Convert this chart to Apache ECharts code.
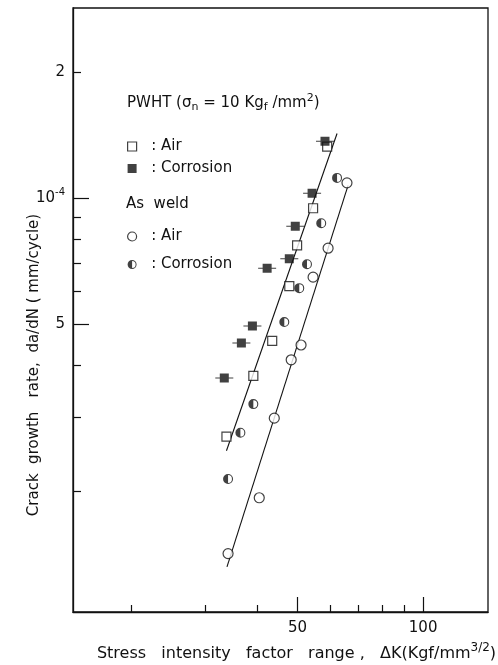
<!DOCTYPE html>
<html>
<head>
<meta charset="utf-8">
<style>
  html, body { margin: 0; padding: 0; background: #fff; }
  #chart { width: 498px; height: 665px; }
</style>
<script src="https://cdn.jsdelivr.net/npm/echarts@6/dist/echarts.min.js"></script>
</head>
<body>
<div id="chart"></div>
<script>
// delta K (Kgf/mm^3/2), da/dN (mm/cycle)
const pwhtAir = [[58.9, 1.33e-4], [54.5, 9.48e-5], [49.9, 7.73e-5], [47.8, 6.18e-5], [43.5, 4.57e-5], [39.2, 3.77e-5], [33.8, 2.70e-5]];
const pwhtCorrosion = [[58.2, 1.37e-4], [54.2, 1.03e-4], [49.4, 8.59e-5], [47.8, 7.18e-5], [42.3, 6.82e-5], [39.0, 4.96e-5], [36.7, 4.52e-5], [33.4, 3.73e-5]];
const weldAir = [[65.7, 1.09e-4], [59.2, 7.61e-5], [54.5, 6.49e-5], [51.0, 4.47e-5], [48.3, 4.12e-5], [44.0, 2.99e-5], [40.5, 1.93e-5], [34.1, 1.42e-5]];
const weldCorrosion = [[62.2, 1.12e-4], [57.0, 8.73e-5], [52.7, 6.97e-5], [50.5, 6.11e-5], [46.5, 5.07e-5], [39.2, 3.23e-5], [36.5, 2.76e-5], [34.1, 2.14e-5]];
const pwhtFit = [[33.8, 2.50e-5], [62.2, 1.43e-4]];
const weldFit = [[33.9, 1.32e-5], [66.1, 1.075e-4]];

const xLongTicks = [50, 100];
const xShortTicks = [20, 30, 40, 60, 70, 80, 90];
const yLongTicks = [5e-5, 1e-4];
const yShortTicks = [2e-5, 3e-5, 4e-5, 6e-5, 7e-5, 8e-5, 9e-5, 2e-4];
const yLabels = [5e-5, 1e-4, 2e-4];

const FONT = 'DejaVu Sans';
const INK = '#111';

const dashSquare = 'path://M0,4L4.5,4L4.5,0L13.5,0L13.5,4L18,4L18,5L13.5,5L13.5,9L4.5,9L4.5,5L0,5Z';
const halfCircle = 'path://M10,0A10,10 0 1,1 10,20A10,10 0 1,1 10,0ZM10,2.2A7.8,7.8 0 1,0 10,17.8A7.8,7.8 0 1,0 10,2.2ZM10,2.2A7.8,7.8 0 0,0 10,17.8Z';

const openStyle = { color: '#fff', borderColor: INK, borderWidth: 1.2 };

const chart = echarts.init(document.getElementById('chart'));

const xBase = { type: 'log', min: 14.5, max: 143, gridIndex: 0, position: 'bottom', splitLine: { show: false }, minorTick: { show: false } };
const yBase = { type: 'log', min: 1.03e-5, max: 2.85e-4, gridIndex: 0, position: 'left', splitLine: { show: false }, minorTick: { show: false } };

chart.setOption({
  animation: false,
  backgroundColor: '#fff',
  textStyle: { fontFamily: FONT, color: INK },
  grid: {
    left: 73, right: 10, top: 8, bottom: 53, containLabel: false, outerBoundsMode: 'none',
    show: true, borderColor: INK, borderWidth: 1.3, backgroundColor: 'transparent'
  },
  xAxis: [
    Object.assign({}, xBase, {
      axisLine: { lineStyle: { color: INK, width: 1.3 } },
      axisTick: { inside: true, length: 15, lineStyle: { color: INK, width: 1.2 }, customValues: xLongTicks },
      axisLabel: { customValues: xLongTicks, margin: 9, fontSize: 15, fontFamily: FONT, color: INK },
      name: 'Stress   intensity   factor   range ,   ΔK(Kgf/mm{s|3/2})',
      nameLocation: 'middle',
      nameGap: 30,
      nameMoveOverlap: false,
      nameTextStyle: {
        fontSize: 16, fontFamily: FONT, color: INK, lineHeight: 24, padding: [0, 0, 0, 32],
        rich: { s: { fontSize: 12, verticalAlign: 'top', lineHeight: 12, fontFamily: FONT, color: INK } }
      }
    }),
    Object.assign({}, xBase, {
      axisLine: { show: false },
      axisTick: { inside: true, length: 7, lineStyle: { color: INK, width: 1.2 }, customValues: xShortTicks },
      axisLabel: { show: false }
    })
  ],
  yAxis: [
    Object.assign({}, yBase, {
      axisLine: { lineStyle: { color: INK, width: 1.3 } },
      axisTick: { inside: true, length: 16, lineStyle: { color: INK, width: 1.2 }, customValues: yLongTicks },
      axisLabel: {
        customValues: yLabels, margin: 8, fontSize: 15, fontFamily: FONT, color: INK, lineHeight: 22,
        formatter: v => {
          if (Math.abs(v - 1e-4) < 1e-9) return '{a|10}{b|-4}';
          return String(Math.round(v / Math.pow(10, Math.floor(Math.log10(v) + 1e-9))));
        },
        rich: {
          a: { fontSize: 15, fontFamily: FONT, color: INK },
          b: { fontSize: 10, verticalAlign: 'top', lineHeight: 11, fontFamily: FONT, color: INK }
        }
      },
      name: 'Crack  growth   rate,  da/dN ( mm/cycle)',
      nameLocation: 'middle',
      nameRotate: 90,
      nameGap: 31,
      nameMoveOverlap: false,
      nameTextStyle: { fontSize: 15, fontFamily: FONT, color: INK, padding: [0, 110, 0, 0] }
    }),
    Object.assign({}, yBase, {
      axisLine: { show: false },
      axisTick: { inside: true, length: 8, lineStyle: { color: INK, width: 1.2 }, customValues: yShortTicks },
      axisLabel: { show: false }
    })
  ],
  legend: [
    {
      orient: 'vertical', left: 127, top: 139, padding: 0, itemWidth: 9, itemHeight: 9, itemGap: 7,
      textStyle: { fontSize: 15, fontFamily: FONT, color: INK },
      formatter: n => '  : ' + n.replace('PWHT ', ''),
      data: [
        { name: 'PWHT Air', icon: 'rect', itemStyle: openStyle },
        { name: 'PWHT Corrosion', icon: 'rect', itemStyle: { color: INK, borderWidth: 0 } }
      ]
    },
    {
      orient: 'vertical', left: 127, top: 229, padding: 0, itemWidth: 9, itemHeight: 9, itemGap: 13,
      textStyle: { fontSize: 15, fontFamily: FONT, color: INK },
      formatter: n => '  : ' + n.replace('As weld ', ''),
      data: [
        { name: 'As weld Air', icon: 'circle', itemStyle: openStyle },
        { name: 'As weld Corrosion', icon: halfCircle, itemStyle: { color: INK, borderWidth: 0 } }
      ]
    }
  ],
  graphic: [
    {
      type: 'text', left: 127, top: 93,
      style: {
        text: 'PWHT (σ{sub|n} = 10 Kg{sub|f} /mm{sup|2})',
        fontSize: 15, fontFamily: FONT, fill: INK, lineHeight: 20,
        rich: {
          sub: { fontSize: 11, verticalAlign: 'bottom', lineHeight: 9, fontFamily: FONT, fill: INK },
          sup: { fontSize: 11, verticalAlign: 'top', lineHeight: 10, fontFamily: FONT, fill: INK }
        }
      }
    },
    {
      type: 'text', left: 126, top: 197,
      style: { text: 'As  weld', fontSize: 15, fontFamily: FONT, fill: INK }
    }
  ],
  series: [
    { type: 'line', data: pwhtFit, symbol: 'none', silent: true, lineStyle: { color: INK, width: 1.1 }, z: 1 },
    { type: 'line', data: weldFit, symbol: 'none', silent: true, lineStyle: { color: INK, width: 1.1 }, z: 1 },
    { name: 'PWHT Air', type: 'scatter', data: pwhtAir, symbol: 'rect', symbolSize: 9, itemStyle: openStyle, z: 3 },
    { name: 'PWHT Corrosion', type: 'scatter', data: pwhtCorrosion, symbol: dashSquare, symbolSize: [18, 9], itemStyle: { color: INK }, z: 4 },
    { name: 'As weld Air', type: 'scatter', data: weldAir, symbol: 'circle', symbolSize: 10, itemStyle: openStyle, z: 3 },
    { name: 'As weld Corrosion', type: 'scatter', data: weldCorrosion, symbol: halfCircle, symbolSize: 10, itemStyle: { color: INK }, z: 3 }
  ]
});
</script>
</body>
</html>
